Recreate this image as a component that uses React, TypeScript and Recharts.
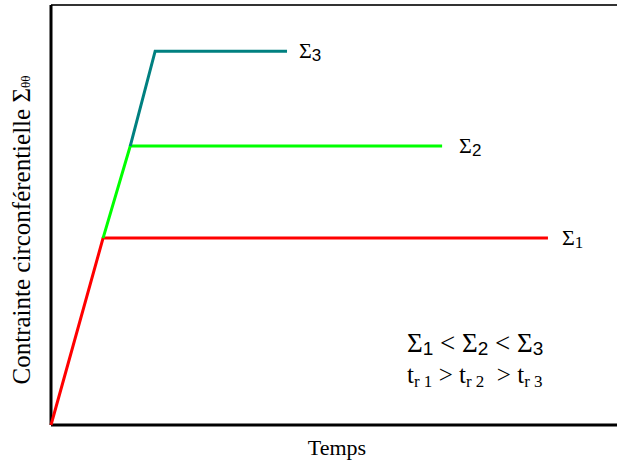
import { LineChart, Line, XAxis, YAxis, ReferenceLine, Customized } from 'recharts';

// time / stress values (arbitrary units, 0..100)
const timeS1 = [0, 9.2, 87.8];
const stressS1 = [0, 44.5, 44.5];
const timeS2 = [9.2, 14, 69.1];
const stressS2 = [44.5, 66.4, 66.4];
const timeS3 = [14, 18.4, 41.7];
const stressS3 = [66.4, 89, 89];

const toPoints = (xs: number[], ys: number[]) => xs.map((x, i) => ({ t: x, s: ys[i] }));

const serif = 'Liberation Serif';
const sans = 'Liberation Sans';

const endLabel = (sub: string, subFont: string, dx: number, last: number) => (props: any) => {
  if (props.index !== last) return <g key={`l-${props.index}`} />;
  return (
    <text key={`l-${props.index}`} x={props.x + dx} y={props.y + 7} style={{ fontFamily: serif }} fontSize={22} fill="#000">
      Σ
      <tspan style={{ fontFamily: subFont }} fontSize={17} dy={3}>{sub}</tspan>
    </text>
  );
};

const Annotations = () => (
  <g>
    <text x={21} y={230} transform="rotate(-90 21 230)" textAnchor="middle" dominantBaseline="central" style={{ fontFamily: serif }} fontSize={25} fill="#000">
      Contrainte circonférentielle Σ<tspan fontSize={13} dy={4}>θθ</tspan>
    </text>
    <text x={337} y={455} textAnchor="middle" style={{ fontFamily: serif }} fontSize={22} fill="#000">Temps</text>
    <text x={407} y={352} style={{ fontFamily: serif }} fontSize={27} fill="#000">
      Σ<tspan style={{ fontFamily: sans }} fontSize={19} dy={3}>1</tspan>
      <tspan dy={-3}> &lt; Σ</tspan><tspan style={{ fontFamily: sans }} fontSize={19} dy={3}>2</tspan>
      <tspan dy={-3}> &lt; Σ</tspan><tspan style={{ fontFamily: sans }} fontSize={19} dy={3}>3</tspan>
    </text>
    <text x={407} y={383} style={{ fontFamily: serif, whiteSpace: 'pre' }} fontSize={25} fill="#000">
      t<tspan fontSize={17} dy={4}>r 1</tspan>
      <tspan dy={-4}> &gt; t</tspan><tspan fontSize={17} dy={4}>r 2</tspan>
      <tspan dy={-4}>{'  > t'}</tspan><tspan fontSize={17} dy={4}>r 3</tspan>
    </text>
  </g>
);

export default function App() {
  return (
    <div style={{ width: 618, height: 466 }}>
      <style>{'body{margin:0;background:#fff}'}</style>
      <LineChart width={618} height={466} margin={{ top: 5, right: 1, bottom: 41, left: 51 }}>
        <XAxis type="number" dataKey="t" domain={[0, 100]} hide />
        <YAxis type="number" dataKey="s" domain={[0, 100]} hide />
        <ReferenceLine y={100} stroke="#333" strokeWidth={2} />
        <ReferenceLine y={0} stroke="#000" strokeWidth={3} />
        <ReferenceLine x={0} stroke="#000" strokeWidth={3} />
        <Line
          data={toPoints(timeS1, stressS1)}
          dataKey="s"
          stroke="#ff0000"
          strokeWidth={3}
          dot={false}
          isAnimationActive={false}
          label={endLabel('1', serif, 14, 2)}
        />
        <Line
          data={toPoints(timeS2, stressS2)}
          dataKey="s"
          stroke="#00ff00"
          strokeWidth={3}
          dot={false}
          isAnimationActive={false}
          label={endLabel('2', sans, 17, 2)}
        />
        <Line
          data={toPoints(timeS3, stressS3)}
          dataKey="s"
          stroke="#008080"
          strokeWidth={3}
          dot={false}
          isAnimationActive={false}
          label={endLabel('3', sans, 12, 2)}
        />
        <Customized component={Annotations} />
      </LineChart>
    </div>
  );
}
